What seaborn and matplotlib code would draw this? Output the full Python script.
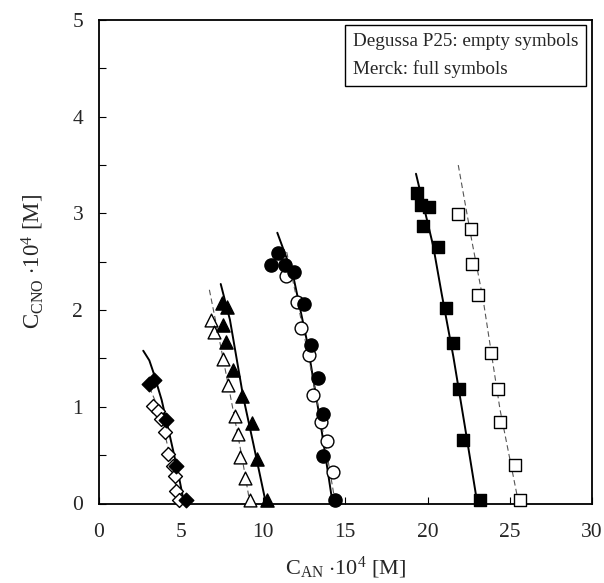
import matplotlib
matplotlib.use("Agg")
import matplotlib.pyplot as plt
import seaborn as sns
import pandas as pd
from matplotlib.ticker import MultipleLocator

# ---------------- data (C_AN*1e4, C_CNO*1e4) ----------------
# Merck (full symbols)
merck_dia_x = [3.09, 3.37, 4.10, 4.71, 5.32]
merck_dia_y = [1.24, 1.28, 0.86, 0.39, 0.04]
merck_tri_x = [7.49, 7.79, 7.59, 7.75, 8.19, 8.71, 9.31, 9.65, 10.26]
merck_tri_y = [2.07, 2.03, 1.85, 1.67, 1.38, 1.11, 0.83, 0.46, 0.04]
merck_cir_x = [10.47, 10.93, 11.34, 11.88, 12.49, 12.90, 13.36, 13.63, 13.67, 14.38]
merck_cir_y = [2.47, 2.59, 2.47, 2.39, 2.06, 1.64, 1.30, 0.93, 0.49, 0.04]
merck_sq_x = [19.34, 19.59, 20.11, 19.74, 20.66, 21.11, 21.53, 21.93, 22.18, 23.19]
merck_sq_y = [3.21, 3.09, 3.07, 2.87, 2.65, 2.02, 1.66, 1.18, 0.66, 0.04]

# Degussa P25 (empty symbols)
deg_dia_x = [3.33, 3.64, 3.78, 4.04, 4.24, 4.51, 4.65, 4.71, 4.91]
deg_dia_y = [1.01, 0.96, 0.87, 0.74, 0.51, 0.39, 0.28, 0.13, 0.04]
deg_tri_x = [6.82, 7.02, 7.55, 7.89, 8.30, 8.50, 8.60, 8.91, 9.21]
deg_tri_y = [1.90, 1.77, 1.49, 1.23, 0.90, 0.72, 0.48, 0.26, 0.04]
deg_cir_x = [11.40, 12.09, 12.29, 12.81, 13.06, 13.51, 13.91, 14.24]
deg_cir_y = [2.35, 2.08, 1.82, 1.54, 1.12, 0.84, 0.65, 0.33]
deg_sq_x = [21.87, 22.63, 22.72, 23.05, 23.84, 24.27, 24.41, 25.32, 25.62]
deg_sq_y = [2.99, 2.84, 2.48, 2.16, 1.56, 1.18, 0.84, 0.40, 0.04]

# model curves (solid: Merck, dashed: Degussa)
fit_merck_dia_x = [2.72, 3.09, 3.33, 3.84, 4.35, 4.85, 5.16]
fit_merck_dia_y = [1.58, 1.48, 1.36, 1.07, 0.69, 0.31, 0.04]
fit_merck_tri_x = [7.43, 7.99, 8.80, 9.41, 10.18]
fit_merck_tri_y = [2.27, 1.90, 1.10, 0.62, 0.00]
fit_merck_cir_x = [10.87, 11.84, 12.66, 13.47, 14.18]
fit_merck_cir_y = [2.80, 2.35, 1.69, 0.86, 0.06]
fit_merck_sq_x = [19.30, 20.35, 20.86, 21.57, 22.28, 23.03]
fit_merck_sq_y = [3.41, 2.66, 2.17, 1.52, 0.79, 0.00]

fit_deg_dia_x = [3.10, 3.60, 4.00, 4.45, 4.90]
fit_deg_dia_y = [1.20, 1.00, 0.75, 0.40, 0.00]
fit_deg_tri_x = [6.74, 7.40, 8.10, 8.70, 9.21]
fit_deg_tri_y = [2.21, 1.65, 1.04, 0.50, 0.00]
fit_deg_cir_x = [11.44, 12.20, 12.90, 13.70, 14.40]
fit_deg_cir_y = [2.60, 2.00, 1.40, 0.70, 0.00]
fit_deg_sq_x = [21.87, 22.69, 23.39, 24.41, 25.52]
fit_deg_sq_y = [3.50, 2.72, 2.10, 0.97, 0.02]

legend_lines = ["Degussa P25: empty symbols", "Merck: full symbols"]
xlabel = r"C$_{\mathrm{AN}}$ $\cdot$10$^{4}$ [M]"
ylabel = r"C$_{\mathrm{CNO}}$ $\cdot$10$^{4}$ [M]"

# ---------------- style ----------------
sns.set_style("ticks")
plt.rcParams["font.family"] = ["Liberation Serif", "DejaVu Serif"]
plt.rcParams["mathtext.fontset"] = "custom"
plt.rcParams["mathtext.rm"] = "Liberation Serif"
plt.rcParams["mathtext.it"] = "Liberation Serif:italic"

fig = plt.figure(figsize=(6.04, 5.83), dpi=100)
ax = fig.add_axes([98.5 / 604, (583 - 503.5) / 583, (592 - 98.5) / 604, (503.5 - 20) / 583])

def curve(x, y, style):
    df = pd.DataFrame({"x": x, "y": y})
    if style == "solid":
        sns.lineplot(data=df, x="x", y="y", sort=False, estimator=None, ax=ax,
                     color="black", linewidth=1.4, zorder=2)
    else:
        sns.lineplot(data=df, x="x", y="y", sort=False, estimator=None, ax=ax,
                     color="#555555", linewidth=0.8, zorder=2,
                     linestyle=(0, (5, 3)))

for x, y in [(fit_merck_dia_x, fit_merck_dia_y), (fit_merck_tri_x, fit_merck_tri_y),
             (fit_merck_cir_x, fit_merck_cir_y), (fit_merck_sq_x, fit_merck_sq_y)]:
    curve(x, y, "solid")
for x, y in [(fit_deg_dia_x, fit_deg_dia_y), (fit_deg_tri_x, fit_deg_tri_y),
             (fit_deg_cir_x, fit_deg_cir_y), (fit_deg_sq_x, fit_deg_sq_y)]:
    curve(x, y, "dashed")

def pts(x, y, marker, filled, size):
    df = pd.DataFrame({"x": x, "y": y})
    sns.scatterplot(data=df, x="x", y="y", marker=marker, s=size, ax=ax,
                    color="black" if filled else "white",
                    edgecolor="black", linewidth=1.0, zorder=3, clip_on=False)

pts(deg_dia_x, deg_dia_y, "D", False, 50)
pts(deg_tri_x, deg_tri_y, "^", False, 85)
pts(deg_cir_x, deg_cir_y, "o", False, 85)
pts(deg_sq_x, deg_sq_y, "s", False, 75)
pts(merck_dia_x, merck_dia_y, "D", True, 55)
pts(merck_tri_x, merck_tri_y, "^", True, 90)
pts(merck_cir_x, merck_cir_y, "o", True, 90)
pts(merck_sq_x, merck_sq_y, "s", True, 80)

ax.set_xlim(0, 30)
ax.set_ylim(0, 5)
ax.xaxis.set_major_locator(MultipleLocator(5))
ax.yaxis.set_major_locator(MultipleLocator(1))
ax.yaxis.set_minor_locator(MultipleLocator(0.5))
ax.tick_params(axis="both", which="both", direction="in", labelsize=15.5,
               color="black", width=0.8)
ax.tick_params(axis="both", which="major", length=5)
ax.tick_params(axis="y", which="minor", length=5)
ax.tick_params(axis="x", which="major", pad=14)
ax.tick_params(axis="y", which="major", pad=11)
for sp in ax.spines.values():
    sp.set_visible(True)
    sp.set_color("black")
    sp.set_linewidth(1.3)

ax.set_xlabel(xlabel, fontsize=16, labelpad=9)
ax.set_ylabel(ylabel, fontsize=16.5, labelpad=19)

ax.text(0.516, 0.974, legend_lines[0] + "\n" + legend_lines[1], transform=ax.transAxes,
        ha="left", va="top", multialignment="left", fontsize=13.8, linespacing=1.75,
        bbox=dict(boxstyle="square,pad=0.4", facecolor="white", edgecolor="black",
                  linewidth=1.0), zorder=5)

fig.savefig("out.png", dpi=100)
